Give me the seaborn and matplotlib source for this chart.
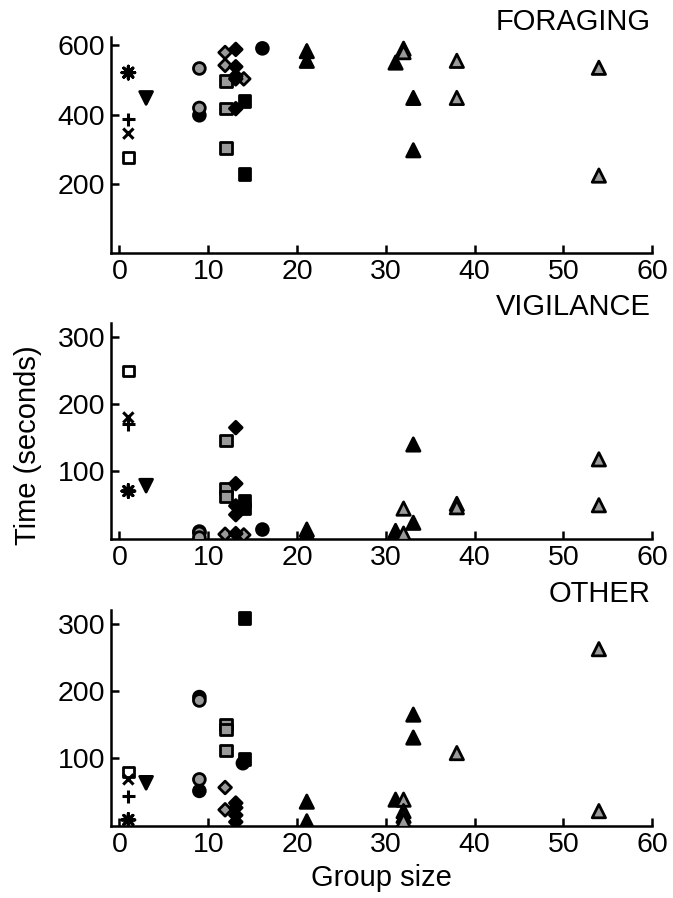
import pandas as pd
import matplotlib.pyplot as plt
import seaborn as sns

# ---- data: group size and time (s), one set of lists per panel ----
foraging_size = [1, 1, 1, 1, 3,
                 9, 16.1, 9, 9,
                 12, 12, 12,
                 11.9, 11.9, 14,
                 13.1, 13.1, 13.1, 13.1, 13.1,
                 14.1, 14.1,
                 21.1, 21.1, 31.1, 33.1, 33.1,
                 32, 32, 38, 38, 54, 54]
foraging_time = [277, 345, 386, 521, 448,
                 398, 591, 533, 419,
                 497, 417, 303,
                 579, 542, 503,
                 588, 538, 511, 503, 417,
                 439, 229,
                 583, 555, 550, 448, 297,
                 590, 580, 555, 448, 535, 224]
foraging_kind = ['open_square', 'cross', 'plus', 'asterisk', 'black_vtri',
                 'black_circle', 'black_circle', 'gray_circle', 'gray_circle',
                 'gray_square', 'gray_square', 'gray_square',
                 'gray_diamond', 'gray_diamond', 'gray_diamond',
                 'black_diamond', 'black_diamond', 'black_diamond', 'black_diamond', 'black_diamond',
                 'black_square', 'black_square',
                 'black_tri', 'black_tri', 'black_tri', 'black_tri', 'black_tri',
                 'gray_tri', 'gray_tri', 'gray_tri', 'gray_tri', 'gray_tri', 'gray_tri']

vigilance_size = [1, 1, 1, 1, 3,
                  9, 16.1, 9, 9,
                  12, 12, 12,
                  11.9, 14,
                  13.1, 13.1, 13.1, 13.1, 13.1,
                  14.1, 14.1,
                  21.1, 21.1, 31.1, 33.1, 33.1,
                  32, 32, 38, 38, 54, 54]
vigilance_time = [249, 180, 170, 71, 79,
                  11, 14, 9, 2,
                  146, 75, 63,
                  7, 6,
                  165, 82, 49, 36, 8,
                  56, 45,
                  14, 9, 12, 140, 24,
                  45, 8, 52, 47, 118, 50]
vigilance_kind = ['open_square', 'cross', 'plus', 'asterisk', 'black_vtri',
                  'black_circle', 'black_circle', 'gray_circle', 'gray_circle',
                  'gray_square', 'gray_square', 'gray_square',
                  'gray_diamond', 'gray_diamond',
                  'black_diamond', 'black_diamond', 'black_diamond', 'black_diamond', 'black_diamond',
                  'black_square', 'black_square',
                  'black_tri', 'black_tri', 'black_tri', 'black_tri', 'black_tri',
                  'gray_tri', 'gray_tri', 'gray_tri', 'gray_tri', 'gray_tri', 'gray_tri']

other_size = [1, 1, 1, 1, 3,
              9, 9, 13.9, 9, 9,
              12, 12, 12,
              11.9, 11.9,
              13.1, 13.1, 13.1, 13.1,
              14.1, 14.1,
              21.1, 21.1, 31.1, 33.1, 33.1,
              32, 32, 32, 32, 38, 54, 54]
other_time = [80, 69, 44, 9, 64,
              191, 52, 93, 186, 69,
              150, 143, 112,
              57, 24,
              34, 27, 16, 6,
              308, 99,
              36, 7, 39, 165, 131,
              39, 22, 15, 8, 108, 262, 22]
other_kind = ['open_square', 'cross', 'plus', 'asterisk', 'black_vtri',
              'black_circle', 'black_circle', 'black_circle', 'gray_circle', 'gray_circle',
              'gray_square', 'gray_square', 'gray_square',
              'gray_diamond', 'gray_diamond',
              'black_diamond', 'black_diamond', 'black_diamond', 'black_diamond',
              'black_square', 'black_square',
              'black_tri', 'black_tri', 'black_tri', 'black_tri', 'black_tri',
              'gray_tri', 'gray_tri', 'gray_tri', 'gray_tri', 'gray_tri', 'gray_tri', 'gray_tri']

panel_titles = ['FORAGING', 'VIGILANCE', 'OTHER']
panel_yticks = [[200, 400, 600], [100, 200, 300], [100, 200, 300]]
panel_ylim = [623, 320, 320]

# ---- styles ----
GRAY = '#9a9a9a'
filled_marker = {'open_square': 's', 'black_vtri': 'v',
                 'black_circle': 'o', 'gray_circle': 'o',
                 'gray_square': 's', 'black_square': 's',
                 'gray_diamond': 'D', 'black_diamond': 'D',
                 'black_tri': '^', 'gray_tri': '^'}
filled_color = {'open_square': 'white', 'black_vtri': 'black',
                'black_circle': 'black', 'gray_circle': GRAY,
                'gray_square': GRAY, 'black_square': 'black',
                'gray_diamond': GRAY, 'black_diamond': 'black',
                'black_tri': 'black', 'gray_tri': GRAY}
filled_size = {'open_square': 60, 'black_vtri': 85,
               'black_circle': 72, 'gray_circle': 72,
               'gray_square': 68, 'black_square': 68,
               'gray_diamond': 42, 'black_diamond': 42,
               'black_tri': 92, 'gray_tri': 92}
line_marker = {'cross': 'x', 'plus': '+', 'asterisk': (8, 2, 0)}
line_size = {'cross': 55, 'plus': 95, 'asterisk': 85}

sns.set_style('ticks')
plt.rcParams['font.family'] = ['Liberation Sans', 'DejaVu Sans']
plt.rcParams['xtick.direction'] = 'in'
plt.rcParams['ytick.direction'] = 'in'
for key in ['text.color', 'axes.labelcolor', 'xtick.color', 'ytick.color', 'axes.edgecolor']:
    plt.rcParams[key] = 'black'

fig = plt.figure(figsize=(6.73, 8.98), dpi=100)
bottoms = [0.718, 0.3998, 0.0802]

panels = [(foraging_size, foraging_time, foraging_kind),
          (vigilance_size, vigilance_time, vigilance_kind),
          (other_size, other_time, other_kind)]

for i, (sz, tm, kd) in enumerate(panels):
    ax = fig.add_axes([0.165, bottoms[i], 0.804, 0.2405])
    df = pd.DataFrame({'size': sz, 'time': tm, 'kind': kd})
    filled = df[df.kind.isin(filled_marker.keys())]
    lines = df[df.kind.isin(line_marker.keys())]

    sns.scatterplot(data=filled, x='size', y='time', hue='kind', style='kind',
                    size='kind', palette=filled_color, markers=filled_marker,
                    sizes=filled_size, edgecolor='black', linewidth=2.0,
                    legend=False, ax=ax, zorder=3)
    sns.scatterplot(data=lines, x='size', y='time', style='kind',
                    size='kind', markers=line_marker, sizes=line_size,
                    color='black', linewidth=2.2, legend=False, ax=ax, zorder=3)

    ax.set_xlim(-0.95, 60)
    ax.set_ylim(0, panel_ylim[i])
    ax.set_xticks(range(0, 61, 10))
    ax.set_yticks(panel_yticks[i])
    ax.set_xlabel('')
    ax.set_ylabel('')
    sns.despine(ax=ax)
    for s in ['left', 'bottom']:
        ax.spines[s].set_linewidth(1.8)
    ax.tick_params(length=5.8, width=1.8, labelsize=20.5, pad=4)
    ax.text(0.997, 1.072, panel_titles[i], transform=ax.transAxes,
            ha='right', va='center', fontsize=21)

fig.text(381 / 673, 1 - 878 / 898, 'Group size', ha='center', va='center', fontsize=21)
fig.text(28 / 673, 1 - 445 / 898, 'Time (seconds)', rotation=90,
         ha='center', va='center', fontsize=21)

fig.savefig('out.png', dpi=100)
